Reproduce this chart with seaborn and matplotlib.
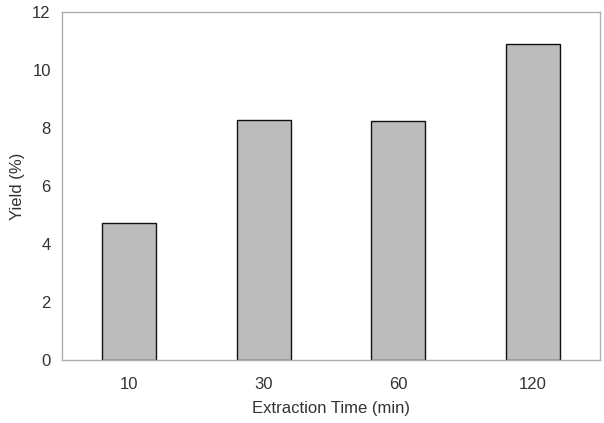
import matplotlib
matplotlib.use("Agg")
import matplotlib.pyplot as plt
import seaborn as sns
import pandas as pd

times = ["10", "30", "60", "120"]
yields = [4.72, 8.27, 8.23, 10.9]
y_ticks = [0, 2, 4, 6, 8, 10, 12]

sns.set_theme(style="white")
plt.rcParams['font.family'] = ['Liberation Sans', 'DejaVu Sans']

df = pd.DataFrame({"time": times, "yield": yields})

fig = plt.figure(figsize=(6.04, 4.23), dpi=100)
ax = fig.add_axes([0.1026, 0.149, 0.8908, 0.8226])
sns.barplot(data=df, x="time", y="yield", ax=ax, color="#bcbcbc",
            saturation=1, width=0.40, edgecolor="#111111", linewidth=1.0)
ax.set_xlim(-0.5, 3.5)
ax.set_ylim(0, 12)
ax.set_yticks(y_ticks)
ax.set_yticklabels([str(t) for t in y_ticks])
for s in ax.spines.values():
    s.set_color("#b0b0b0")
    s.set_linewidth(1.0)
ax.tick_params(axis="both", length=0, labelsize=12, colors="#333333")
ax.tick_params(axis="x", pad=12)
ax.tick_params(axis="y", pad=8)
ax.set_xlabel("Extraction Time (min)", fontsize=12, color="#333333", labelpad=7)
ax.set_ylabel("Yield (%)", fontsize=12, color="#333333", labelpad=5)
fig.savefig("out.png", dpi=100)
